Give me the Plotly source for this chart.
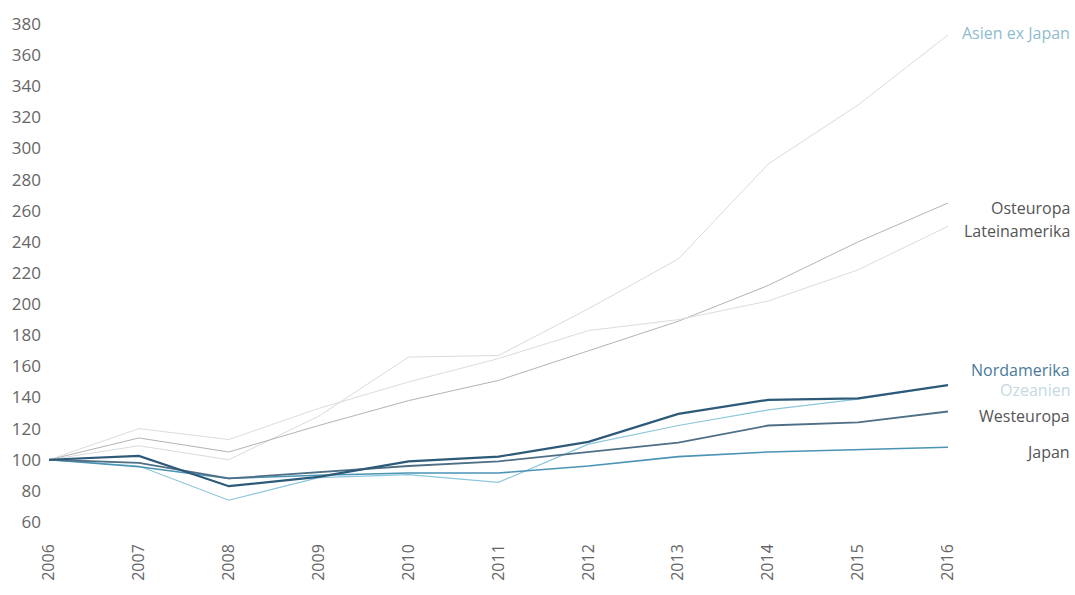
import plotly.graph_objects as go

years = [2006, 2007, 2008, 2009, 2010, 2011, 2012, 2013, 2014, 2015, 2016]

asien_ex_japan = [100, 109, 100, 128, 166, 167, 197, 229, 290, 328, 373]
osteuropa      = [100, 114, 105, 122, 138, 151, 170, 189, 212, 240, 265]
lateinamerika  = [100, 120, 113, 133, 150, 165, 183, 190, 202, 222, 250]
nordamerika    = [100, 102.5, 83, 89, 99, 102, 111.5, 129.5, 138.5, 139.5, 148]
ozeanien       = [100, 96, 74, 88.5, 90.5, 85.5, 110, 122, 132, 139, 148]
westeuropa     = [100, 98, 88, 92, 96, 99, 105, 111, 122, 124, 131]
japan          = [100, 95.5, 88, 90, 91.5, 91.5, 96, 102, 105, 106.5, 108]

labels = ["Asien ex Japan", "Osteuropa", "Lateinamerika", "Nordamerika",
          "Ozeanien", "Westeuropa", "Japan"]
label_y = [374, 262, 247, 157.5, 145, 128, 105]

series = [asien_ex_japan, osteuropa, lateinamerika, ozeanien, japan, westeuropa, nordamerika]
names = ["Asien ex Japan", "Osteuropa", "Lateinamerika", "Ozeanien", "Japan", "Westeuropa", "Nordamerika"]
line_colors = ["#d6dcdf", "#b4b4b4", "#dcdcdc", "#8cc6dc", "#4b93b4", "#4f6f86", "#2e5a7a"]
line_widths = [1, 1, 1, 1.2, 1.6, 1.8, 2.2]
label_colors = {"Asien ex Japan": "#8fbccd", "Osteuropa": "#555555", "Lateinamerika": "#555555",
                "Nordamerika": "#4a7a9a", "Ozeanien": "#c4d9e1", "Westeuropa": "#555555",
                "Japan": "#555555"}

fig = go.Figure()
for n, s, c, w in zip(names, series, line_colors, line_widths):
    fig.add_trace(go.Scatter(x=years, y=s, mode="lines", name=n,
                             line=dict(color=c, width=w), showlegend=False))

for lab, ly in zip(labels, label_y):
    fig.add_annotation(x=1.138, y=ly, xref="paper", yref="y", text=lab, showarrow=False,
                       xanchor="right", yanchor="middle",
                       font=dict(family="Open Sans", size=16, color=label_colors[lab]))

fig.update_layout(
    width=1075, height=595,
    margin=dict(l=49, r=127, t=22, b=73),
    paper_bgcolor="white", plot_bgcolor="white",
    font=dict(family="Open Sans", size=16, color="#666666"),
)
fig.update_xaxes(range=[2006, 2016], tickvals=years, ticktext=[str(y) for y in years],
                 tickangle=-90, showgrid=False, zeroline=False, showline=False,
                 ticklabelstandoff=18, tickfont=dict(size=16, color="#666666"))
fig.update_yaxes(range=[60, 380], dtick=20, tick0=60, showgrid=False, zeroline=False,
                 showline=False, ticklabelstandoff=7, tickfont=dict(size=17, color="#666666"))

fig.write_html("out.html")
